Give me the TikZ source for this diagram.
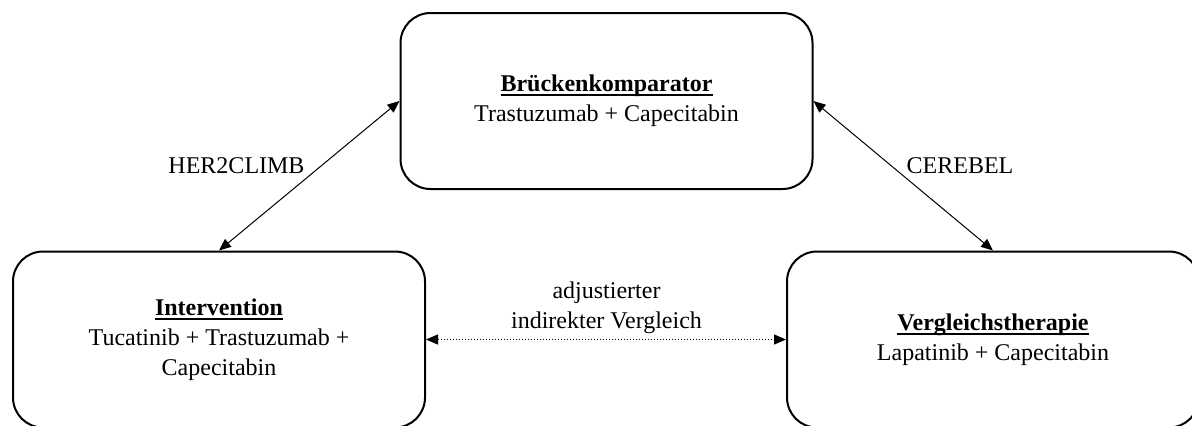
\documentclass[tikz,border=0pt]{standalone}
\usepackage{fontspec}
\setmainfont{Liberation Serif}
\usetikzlibrary{arrows.meta}
\newcommand{\thickul}[1]{\setbox0=\hbox{#1}\leavevmode\rlap{\rule[-2.2pt]{\wd0}{0.9pt}}\box0}
\begin{document}
\begin{tikzpicture}[x=0.5pt,y=-0.5pt,
  box/.style={draw,line width=1pt,rounded corners=15pt,align=center,
    minimum width=206pt,minimum height=88pt,inner sep=0pt,
    font=\fontsize{12}{15}\selectfont},
  arr/.style={{Triangle[length=6pt,width=5pt]}-{Triangle[length=6pt,width=5pt]},line width=0.5pt},
  lbl/.style={font=\fontsize{12}{15}\selectfont,align=center,inner sep=0pt}]
\clip (0,0) rectangle (1192,425);
\useasboundingbox (0,0) rectangle (1192,425);
\node[box] (top) at (606.5,101) {\thickul{\textbf{Brückenkomparator}}\\Trastuzumab + Capecitabin};
\node[box] (inter) at (219,339.5) {\thickul{\textbf{Intervention}}\\Tucatinib + Trastuzumab +\\Capecitabin};
\node[box] (verg) at (993,339.5) {\thickul{\textbf{Vergleichstherapie}}\\Lapatinib + Capecitabin};
\draw[arr] (inter.north) -- (top.west);
\draw[arr] (top.east) -- (verg.north);
\draw[arr,densely dotted] (inter.east) -- (verg.west);
\node[lbl] (l1) at (236.5,166) {HER2CLIMB};
\node[lbl] (l2) at (960,166) {CEREBEL};
\node[lbl] (l3) at (606.5,307.5) {adjustierter\\indirekter Vergleich};
\end{tikzpicture}
\end{document}
